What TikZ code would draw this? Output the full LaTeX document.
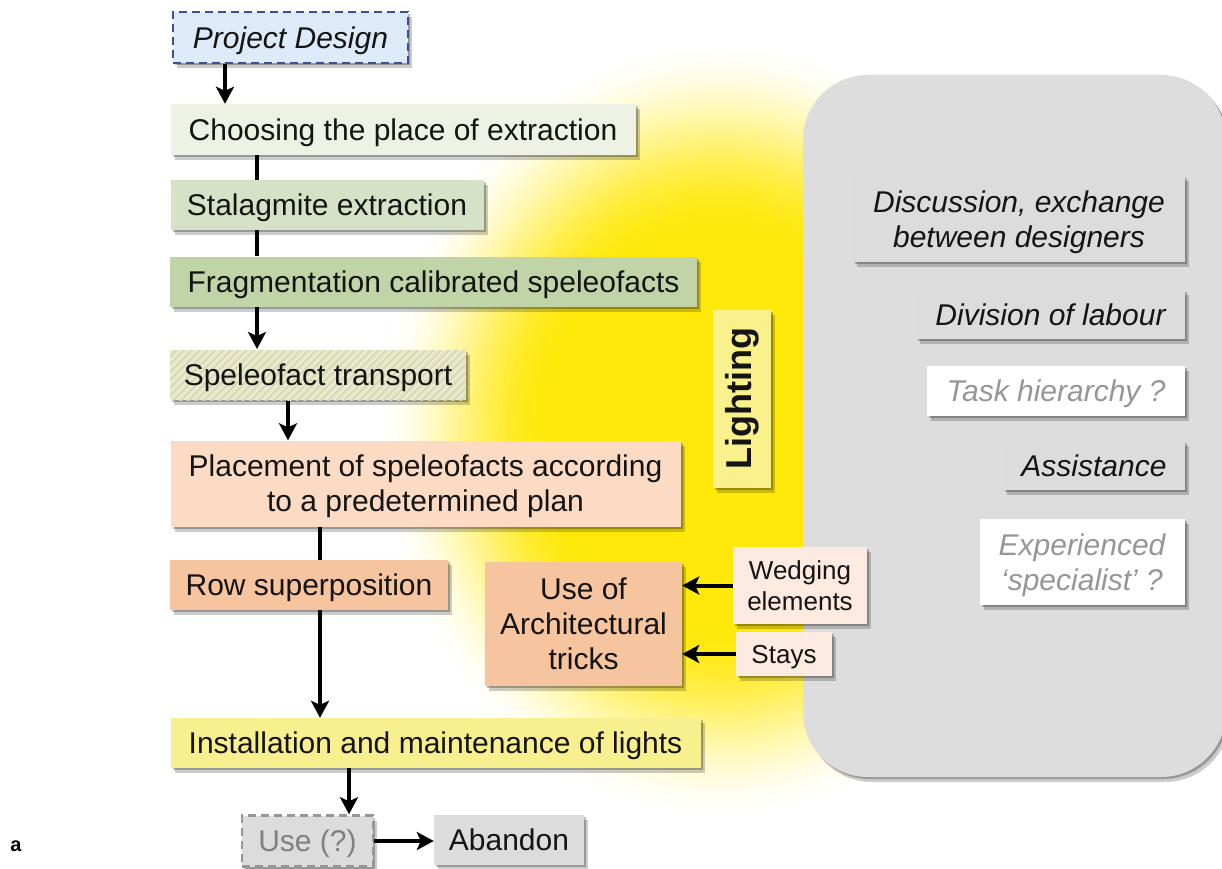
\documentclass[tikz,border=0pt]{standalone}
\usepackage{fontspec}
\setmainfont{Liberation Sans}
\usetikzlibrary{arrows.meta,shadows,patterns.meta,calc}

\definecolor{pdfill}{RGB}{221,234,247}
\definecolor{pdline}{RGB}{62,78,150}
\definecolor{cA}{RGB}{238,242,228}
\definecolor{cB}{RGB}{214,226,198}
\definecolor{cC}{RGB}{192,212,168}
\definecolor{hbase}{RGB}{236,232,206}
\definecolor{hline}{RGB}{212,218,182}
\definecolor{cD}{RGB}{251,219,196}
\definecolor{cE}{RGB}{247,196,160}
\definecolor{cF}{RGB}{253,234,224}
\definecolor{cG}{RGB}{248,240,142}
\definecolor{lightbox}{RGB}{250,240,140}
\definecolor{gbox}{RGB}{220,220,220}
\definecolor{gtext}{RGB}{150,150,150}
\definecolor{panelc}{RGB}{221,221,221}
\definecolor{glowy}{RGB}{255,232,10}

\newcommand\tup{\rule{0pt}{28pt}}

\tikzset{
  shad/.style={drop shadow={shadow xshift=2pt, shadow yshift=-2pt, opacity=.25, fill=black},
               drop shadow={shadow xshift=4pt, shadow yshift=-5pt, opacity=.2, fill=black}},
  base/.style={inner sep=0pt, align=center, font=\fontsize{30}{35}\selectfont, text=black!92, shad},
  one/.style={text height=21.5pt, text depth=0pt},
  small/.style={base, font=\fontsize{26}{31}\selectfont},
  ital/.style={base, font=\itshape\fontsize{30}{35}\selectfont},
  arr/.style={line width=4pt, -{Stealth[length=17pt, width=18pt, inset=4pt]}},
  ln/.style={line width=4pt},
}

\begin{document}
\begin{tikzpicture}[x=1pt, y=-1pt]
\useasboundingbox (0,0) rectangle (1222,869);
\fill[white] (0,0) rectangle (1222,869);

% yellow glow
\foreach \gt in {1.00,0.99,...,0.50}{%
  \pgfmathsetmacro\gpp{min(1,(1-\gt)/0.5)}%
  \pgfmathsetmacro\gpct{100*\gpp*\gpp*(3-2*\gpp)}%
  \pgfmathsetmacro\ga{\gt*345}%
  \pgfmathsetmacro\gb{\gt*395}%
  \colorlet{gcur}{glowy!\gpct!white}%
  \fill[gcur] (720,430) ellipse [x radius=\ga pt, y radius=\gb pt];
}

% grey panel
\fill[panelc, rounded corners=65pt, shad] (803,75) rectangle (1226,777);

% nodes
\node[ital, one, fill=pdfill, draw=pdline, line width=2.5pt, dash pattern=on 8pt off 5pt, minimum width=235pt, minimum height=51pt] (pd) at (290.5,37.5) {Project Design};
\node[base, one, fill=cA, minimum width=465pt, minimum height=51pt] (choose) at (403,129.5) {Choosing the place of extraction};
\node[base, one, fill=cB, minimum width=313pt, minimum height=50pt] (stal) at (327,205) {Stalagmite extraction};
\node[base, one, fill=cC, minimum width=527pt, minimum height=50pt] (frag) at (433.5,281.5) {Fragmentation calibrated speleofacts};
\node[base, one, preaction={fill=hbase}, pattern={Lines[angle=45,distance=5.5pt,line width=2pt]}, pattern color=hline, minimum width=296pt, minimum height=50pt] (trans) at (318,375) {Speleofact transport};
\node[base, fill=cD, minimum width=510pt, minimum height=86pt] (place) at (425.5,483.5) {\tup Placement of speleofacts according\\to a predetermined plan};
\node[base, one, fill=cE, minimum width=278pt, minimum height=50pt] (row) at (309,585) {Row superposition};
\node[base, fill=cE, minimum width=197pt, minimum height=124pt] (arch) at (583.5,623.5) {Use of\\Architectural\\tricks};
\node[small, fill=cF, minimum width=134pt, minimum height=77pt] (wedge) at (800,585.5) {Wedging\\elements};
\node[small, one, text height=18.5pt, fill=cF, minimum width=96pt, minimum height=44pt] (stays) at (784,654) {Stays};
\node[base, one, fill=cG, minimum width=530pt, minimum height=50pt] (inst) at (435.5,743) {Installation and maintenance of lights};
\node[base, one, fill=gbox, text=gtext!85!black, draw=gtext, line width=2.5pt, dash pattern=on 8pt off 5pt, minimum width=131pt, minimum height=51pt] (use) at (307.5,841) {Use (?)};
\node[base, one, fill=gbox, minimum width=150pt, minimum height=50pt] (aband) at (509,840) {Abandon};
\node[base, fill=lightbox, rotate=90, font=\bfseries\fontsize{36}{40}\selectfont, minimum width=178pt, minimum height=58pt] (light) at (742,399) {Lighting};

\node[ital, fill=gbox, minimum width=332pt, minimum height=86pt] (disc) at (1019,219) {\tup Discussion, exchange\\between designers};
\node[ital, one, fill=gbox, minimum width=269pt, minimum height=49pt] (div) at (1050.5,314.5) {Division of labour};
\node[ital, one, fill=white, text=gtext, minimum width=258pt, minimum height=50pt] (task) at (1056,391) {Task hierarchy ?};
\node[ital, one, fill=gbox, minimum width=182pt, minimum height=49pt] (assist) at (1094,465.5) {Assistance};
\node[ital, fill=white, text=gtext, minimum width=205pt, minimum height=86pt] (exp) at (1082,562) {\tup Experienced\\‘specialist’ ?};

\node[font=\bfseries\fontsize{20}{24}\selectfont, inner sep=0pt] (lbl) at (16,846) {a};

% connectors
\coordinate (xa) at (225,0);
\coordinate (xb) at (257,0);
\coordinate (xc) at (288,0);
\coordinate (xd) at (320,0);
\coordinate (xe) at (349,0);
\draw[arr] (xa |- pd.south) -- (xa |- choose.north);
\draw[ln] (xb |- choose.south) -- (xb |- stal.north);
\draw[ln] (xb |- stal.south) -- (xb |- frag.north);
\draw[arr] (xb |- frag.south) -- (xb |- trans.north);
\draw[arr] (xc |- trans.south) -- (xc |- place.north);
\draw[ln] (xd |- place.south) -- (xd |- row.north);
\draw[arr] (xd |- row.south) -- (xd |- inst.north);
\draw[arr] (xe |- inst.south) -- (xe |- use.north);
\draw[arr] (use.east) -- (use.east -| aband.west);
\draw[arr] (wedge.west) -- (wedge.west -| arch.east);
\draw[arr] (stays.west) -- (stays.west -| arch.east);
\end{tikzpicture}
\end{document}
